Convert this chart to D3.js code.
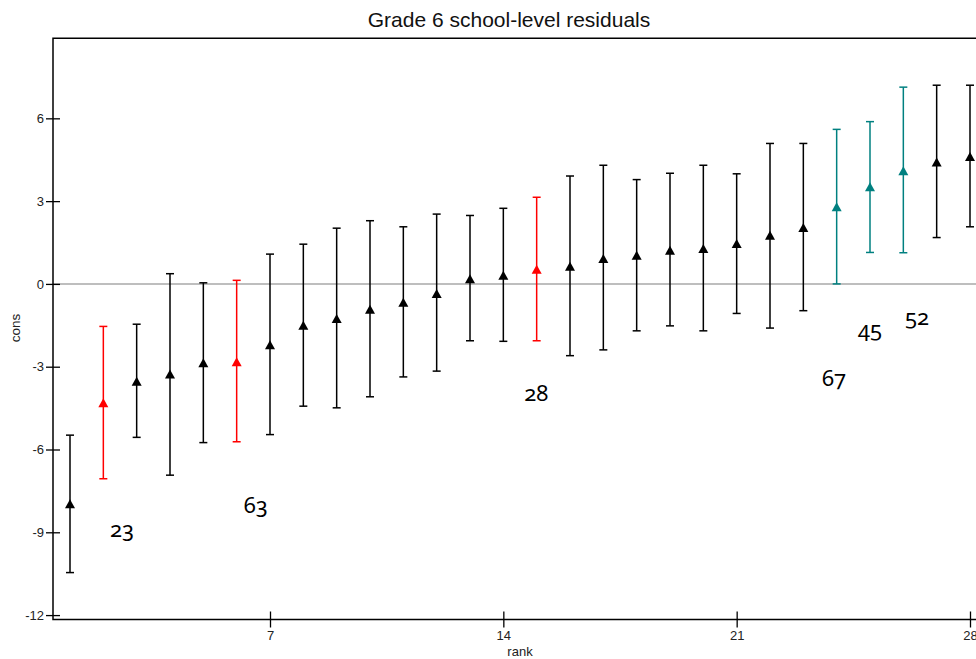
<!DOCTYPE html>
<html>
<head>
<meta charset="utf-8">
<script src="https://cdn.jsdelivr.net/npm/d3@7"></script>
<style>
  body { margin: 0; background: #fff; }
  svg { display: block; }
  text { font-family: "Liberation Sans", Arial, sans-serif; }
  .lab { font-family: "Noto Sans", "Open Sans", sans-serif; font-variant-numeric: oldstyle-nums; }
</style>
</head>
<body>
<svg width="976" height="659"></svg>
<script>
// school residuals ordered by rank
const ranks = d3.range(1, 29);
const cons  = [-7.97, -4.31, -3.53, -3.26, -2.86, -2.82, -2.20, -1.50, -1.25, -0.92,
               -0.66, -0.35,  0.19,  0.31,  0.53,  0.64,  0.92,  1.04,  1.22,  1.28,
                1.46,  1.76,  2.04,  2.80,  3.52,  4.10,  4.42,  4.62];
const upper = [-5.48, -1.54, -1.46,  0.37,  0.04,  0.13,  1.08,  1.44,  2.02,  2.29,
                2.07,  2.53,  2.48,  2.74,  3.14,  3.91,  4.30,  3.78,  4.01,  4.30,
                3.99,  5.09,  5.09,  5.60,  5.88,  7.13,  7.20,  7.20];
const lower = [-10.46, -7.06, -5.56, -6.93, -5.75, -5.72, -5.46, -4.43, -4.49, -4.09,
               -3.37, -3.16, -2.06, -2.08, -2.06, -2.60, -2.39, -1.70, -1.52, -1.70,
               -1.07, -1.60, -0.97,  0.00,  1.14,  1.13,  1.68,  2.07];
const group = ["n", "red", "n", "n", "n", "red", "n", "n", "n", "n",
               "n", "n", "n", "n", "red", "n", "n", "n", "n", "n",
               "n", "n", "n", "teal", "teal", "teal", "n", "n"];

const yTicks = [-12, -9, -6, -3, 0, 3, 6];
const xTicks = [7, 14, 21, 28];

// school id annotations (rank position, cons position)
const schoolIds = ["23", "63", "28", "67", "45", "52"];
const idRank    = [2.56, 6.57, 14.99, 23.92, 25.0, 26.41];
const idCons    = [-8.84, -7.97, -3.91, -3.37, -1.59, -1.16];

const colors = { n: "#000", red: "#ff0000", teal: "#008080" };

const svg = d3.select("svg");
const mLeft = 53, mTop = 38.3, mBottom = 619.5, mRight = 1020;

const x = d3.scaleLinear().domain([0.49, 29.5]).range([mLeft, mRight]);
const y = d3.scaleLinear().domain([-12.16, 8.9]).range([mBottom, mTop]);

// title
svg.append("text")
    .attr("x", 509).attr("y", 27)
    .attr("text-anchor", "middle")
    .attr("font-size", 21)
    .attr("fill", "#111")
    .text("Grade 6 school-level residuals");

// zero reference line
svg.append("line")
    .attr("x1", mLeft).attr("x2", mRight)
    .attr("y1", y(0)).attr("y2", y(0))
    .attr("stroke", "#a8a8a8")
    .attr("stroke-width", 1.5);

// frame
svg.append("path")
    .attr("d", `M${mRight},${mTop}H${mLeft}V${mBottom}H${mRight}`)
    .attr("fill", "none")
    .attr("stroke", "#000")
    .attr("stroke-width", 1.5);

// y axis
const yAxis = svg.append("g")
    .attr("transform", `translate(${mLeft},0)`)
    .call(d3.axisLeft(y).tickValues(yTicks).tickFormat(d => String(d)).tickSize(7));
yAxis.select(".domain").remove();
yAxis.selectAll(".tick line").attr("x1", 7).attr("stroke-width", 1.3);
yAxis.selectAll(".tick text")
    .attr("x", -9)
    .attr("font-size", 13)
    .attr("font-family", "Liberation Sans, Arial, sans-serif")
    .attr("fill", "#222");

// x axis
const xAxis = svg.append("g")
    .attr("transform", `translate(0,${mBottom})`)
    .call(d3.axisBottom(x).tickValues(xTicks).tickSize(8));
xAxis.select(".domain").remove();
xAxis.selectAll(".tick line").attr("y1", -8).attr("stroke-width", 1.3);
xAxis.selectAll(".tick text")
    .attr("y", 11)
    .attr("font-size", 13)
    .attr("font-family", "Liberation Sans, Arial, sans-serif")
    .attr("fill", "#222");

// axis titles
svg.append("text")
    .attr("transform", "translate(20,328) rotate(-90)")
    .attr("text-anchor", "middle")
    .attr("font-size", 13.5)
    .attr("fill", "#222")
    .text("cons");
svg.append("text")
    .attr("x", 520).attr("y", 655.5)
    .attr("text-anchor", "middle")
    .attr("font-size", 13)
    .attr("fill", "#222")
    .text("rank");

// error bars
const bars = svg.append("g").selectAll("g")
    .data(ranks)
    .enter().append("g")
    .attr("stroke", (d, i) => colors[group[i]])
    .attr("stroke-width", 1.5);

bars.append("line")
    .attr("x1", d => x(d)).attr("x2", d => x(d))
    .attr("y1", (d, i) => y(upper[i]))
    .attr("y2", (d, i) => y(lower[i]));
bars.append("line")
    .attr("x1", d => x(d) - 4).attr("x2", d => x(d) + 4)
    .attr("y1", (d, i) => y(upper[i])).attr("y2", (d, i) => y(upper[i]));
bars.append("line")
    .attr("x1", d => x(d) - 4).attr("x2", d => x(d) + 4)
    .attr("y1", (d, i) => y(lower[i])).attr("y2", (d, i) => y(lower[i]));

// triangle markers
const tw = 10, th = 9;
svg.append("g").selectAll("path")
    .data(ranks)
    .enter().append("path")
    .attr("d", `M0,${-th / 2}L${tw / 2},${th / 2}L${-tw / 2},${th / 2}Z`)
    .attr("transform", (d, i) => `translate(${x(d)},${y(cons[i])})`)
    .attr("fill", (d, i) => colors[group[i]]);

// school labels
svg.append("g").selectAll("text")
    .data(schoolIds)
    .enter().append("text")
    .attr("class", "lab")
    .attr("x", (d, i) => x(idRank[i]))
    .attr("y", (d, i) => y(idCons[i]))
    .attr("text-anchor", "middle")
    .attr("dominant-baseline", "central")
    .attr("font-size", 22)
    .text(d => d);
</script>
</body>
</html>
